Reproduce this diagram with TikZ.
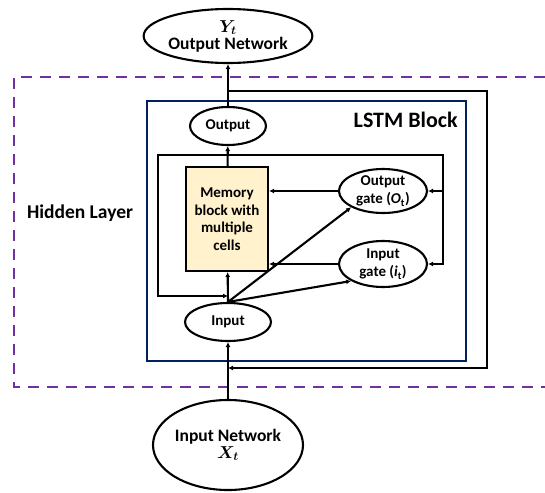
\documentclass[tikz,border=0pt]{standalone}
\usepackage{amsmath}
\usepackage{fontspec}
\setmainfont{Carlito}
\usetikzlibrary{arrows.meta,shapes.geometric}
\definecolor{hidpurple}{RGB}{112,48,160}
\definecolor{lstmnavy}{RGB}{0,32,96}
\definecolor{memfill}{RGB}{255,242,204}
\begin{document}
\begin{tikzpicture}[x=1pt,y=-1pt,line width=2.1pt,
    ell/.style={draw,ellipse,inner sep=0pt,align=center,font=\bfseries\fontsize{15}{18.5}\selectfont},
    arr/.style={-{Latex[length=5pt,width=5pt]}}]
            \useasboundingbox (0,0) rectangle (545,492);
            % layer and block frames
            \draw[hidpurple,line width=2.8pt,dash pattern=on 11pt off 8pt](545,77)--(14,77)--(14,387)--(545,387);
            \draw[lstmnavy,line width=2pt](147,101) rectangle (466,361);
            \node[font=\bfseries\fontsize{19.5}{22}\selectfont] (hid) at (80,213) {Hidden Layer};
            \node[anchor=east,font=\bfseries\fontsize{22}{24}\selectfont] (lstm) at (462,120) {LSTM Block};
            % nodes
            \node[ell,minimum width=146,minimum height=54,font=\bfseries\fontsize{17.5}{17}\selectfont] (ynet) at (228,36) {$\boldsymbol{Y_t}$\\Output Network};
            \node[ell,minimum width=76,minimum height=38] (out) at (228,126) {Output};
            \node[draw,fill=memfill,minimum width=82,minimum height=104,align=center,inner sep=0pt,font=\bfseries\fontsize{15}{17.5}\selectfont] (mem) at (227,219) {Memory\\block with\\multiple\\cells};
            \node[ell,minimum width=88,minimum height=44] (og) at (383,191) {Output\\gate (\textit{O}\textsubscript{t})};
            \node[ell,minimum width=88,minimum height=46] (ig) at (383,264) {Input\\gate (\textit{i}\textsubscript{t})};
            \node[ell,minimum width=86,minimum height=38] (in) at (228,322) {Input};
            \node[ell,minimum width=148,minimum height=90,font=\bfseries\fontsize{17.5}{17}\selectfont] (xnet) at (228,445) {Input Network\\$\boldsymbol{X_t}$};
            % taps on the lines
            \coordinate (otap) at (228,91);
            \coordinate (itap) at (228,368);
            \coordinate (mtap) at (228,155);
            \coordinate (ltap) at (228,296);
            % connectors
            \draw[arr](out)--(ynet);
            \draw[arr](mem)--(out);
            \draw[arr](xnet)--(in);
            \draw[arr](otap)-|(487,368)--(itap);
            \draw[arr](mtap)-|(158,296)--(ltap);
            \draw[arr](mtap)-|(443,264)--(ig);
            \draw[arr](443,191)--(og);
            \draw[arr](og)--(og-|mem.east);
            \draw[arr](ig)--(ig-|mem.east);
            \draw[arr](in.north)--(mem);
            \draw[arr](in.north)--(og.south west);
            \draw[arr](in.north)--(ig.south west);
        \end{tikzpicture}
\end{document}
